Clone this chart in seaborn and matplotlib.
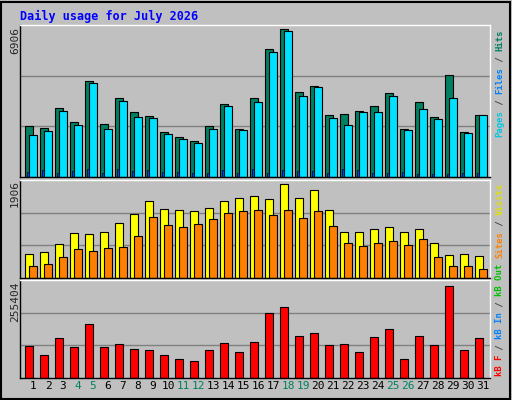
import matplotlib
matplotlib.use("Agg")
import matplotlib.pyplot as plt
import seaborn as sns
import numpy as np
from matplotlib.patches import Rectangle

sns.set_style("white")
plt.rcParams['font.family'] = ['DejaVu Sans Mono']

days = list(range(1, 32))
hits = [2406,2312,3249,2593,4484,2500,3671,3062,2874,2125,1890,1703,2406,3437,2265,3671,
        5968,6906,3952,4233,2921,2968,3109,3343,3906,2265,3484,2828,4749,2125,2921]
files = [1984,2171,3109,2452,4374,2265,3577,2828,2780,2031,1796,1609,2265,3343,2218,3530,
         5827,6811,3765,4186,2780,2452,3062,3062,3811,2218,3202,2734,3671,2077,2921]
pages = [250,344,203,297,390,203,390,297,344,250,250,203,203,344,203,390,
         203,344,297,297,203,390,344,203,203,250,156,156,156,203,203]
visits = [497,518,684,912,891,932,1119,1305,1554,1409,1388,1367,1430,1554,1616,1657,
          1595,1906,1616,1782,1388,932,932,994,1036,932,994,704,476,497,456]
sites = [249,290,435,580,539,601,622,849,1243,1077,1036,1098,1202,1326,1367,1388,
         1284,1388,1222,1367,1057,704,642,704,746,663,787,435,249,249,186]
kbytes = [87300,65000,109600,84500,148600,84500,92900,81700,78900,65000,53900,48300,78900,
          95700,73400,98400,179200,196000,115200,123500,90100,92900,73400,112400,134700,
          53900,115200,90100,255404,76200,109600]
weekend = {4,5,11,12,18,19,25,26}

W, H = 512, 400
fig = plt.figure(figsize=(W/100, H/100), dpi=100)
fig.patch.set_facecolor('#C0C0C0')
fig.patches.append(Rectangle((1/W, 1/H), 1-3/W, 1-3/H, transform=fig.transFigure,
                             fill=False, edgecolor='black', lw=1.5))

def px_axes(top, bottom):
    return fig.add_axes([20/W, 1-bottom/H, 470/W, (bottom-top)/H])

x = np.array(days, dtype=float)
bw = 0.53
off = 0.27
ax1 = px_axes(25, 177)
ax2 = px_axes(180, 278)
ax3 = px_axes(280, 378)
for ax, top in ((ax1, 7108), (ax2, 1989), (ax3, 271500)):
    ax.set_facecolor('#C0C0C0')
    ax.set_xlim(0.133, 31.47)
    ax.set_ylim(0, top)
    for g in (1/3, 2/3):
        ax.axhline(top*g, color='#808080', lw=1, zorder=0)
    ax.set_xticks([]); ax.set_yticks([])
    for s in ax.spines.values():
        s.set_color('black'); s.set_linewidth(1)
    ax.spines['right'].set_color('white'); ax.spines['top'].set_color('white')

ek = dict(edgecolor='black', linewidth=0.8, align='edge')
ax1.bar(x-2*off, hits, width=bw, color='#008060', **ek)
ax1.bar(x-off, files, width=bw, color='#00E0FF', **ek)
ax1.bar(x-0.4, pages, width=0.13, color='#0040FF', edgecolor='black', linewidth=0.5, align='edge')
ax2.bar(x-2*off, visits, width=bw, color='#FFFF00', **ek)
ax2.bar(x-off, sites, width=bw, color='#FF8000', **ek)
ax3.bar(x-2*off, kbytes, width=bw, color='#FF0000', **ek)

tr = matplotlib.transforms.blended_transform_factory(ax3.transData, ax3.transAxes)
for d in days:
    ax3.text(d, -(386-378)/98, str(d), transform=tr, ha='center', va='center', fontsize=8,
             color='#00805F' if d in weekend else 'black')

def ftext(xp, yp, s, **kw):
    fig.text(xp/W, 1-yp/H, s, **kw)

ftext(20, 16, "Daily usage for July 2026", color='#0000FF', fontsize=8.5, fontweight='bold', va='center')
ftext(15, 27, "6906", rotation=90, ha='center', va='top', fontsize=8)
ftext(15, 180, "1906", rotation=90, ha='center', va='top', fontsize=8)
ftext(15, 281, "255404", rotation=90, ha='center', va='top', fontsize=8)

FS = 6.4
CW = 0.602 * FS * 100 / 72

def vlabel(xp, ybot, parts):
    y = ybot
    for s, c in parts:
        ftext(xp, y, s, rotation=90, ha='center', va='bottom', color=c, fontsize=FS, fontweight='bold')
        y -= CW*len(s)

vlabel(500, 137, [("Pages", '#00C8E0'), (" / ", '#404040'), ("Files", '#0080FF'),
                  (" / ", '#404040'), ("Hits", '#008060')])
vlabel(500, 258, [("Sites", '#FF8000'), (" / ", '#404040'), ("Visits", '#E0E000')])
vlabel(500, 376, [("kB F", '#FF0000'), (" / ", '#404040'), ("kB In", '#0080FF'),
                  (" / ", '#404040'), ("kB Out", '#00C000')])

fig.savefig("out.png", dpi=100, facecolor=fig.get_facecolor())
